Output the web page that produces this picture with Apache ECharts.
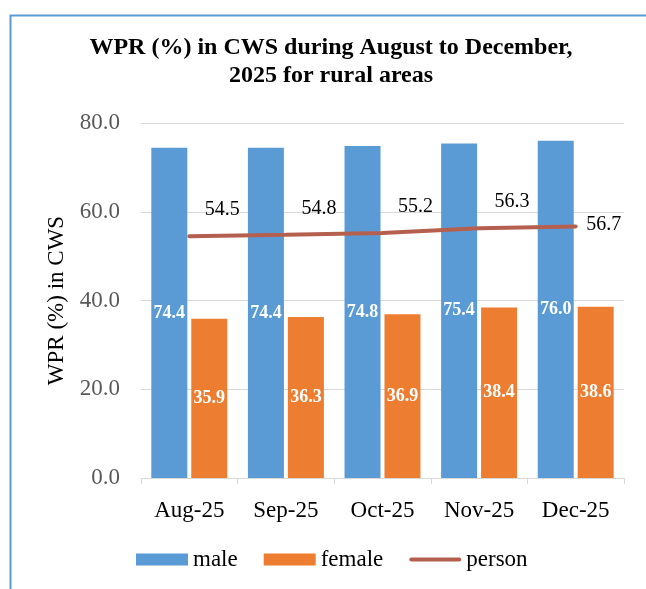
<!DOCTYPE html>
<html>
<head>
<meta charset="utf-8">
<script src="https://cdn.jsdelivr.net/npm/echarts@6/dist/echarts.min.js"></script>
<style>html,body{margin:0;padding:0;background:#fff}#c{width:646px;height:589px}</style>
</head>
<body>
<div id="c"></div>
<script>
var categories = ['Aug-25', 'Sep-25', 'Oct-25', 'Nov-25', 'Dec-25'];
var male = [74.4, 74.4, 74.8, 75.4, 76.0];
var female = [35.9, 36.3, 36.9, 38.4, 38.6];
var person = [54.5, 54.8, 55.2, 56.3, 56.7];
var yTicks = { min: 0, max: 80, interval: 20 };
var titleText = 'WPR (%) in CWS during August to December,\n2025 for rural areas';

var serif = 'Liberation Serif';
var chart = echarts.init(document.getElementById('c'));
var personData = person.map(function (v, i) {
  if (i === person.length - 1) {
    return { value: v, label: { position: 'right', distance: 10, offset: [0, -2] } };
  }
  return v;
});
var lineIcon = 'path://M0,0h0.01v0.01h-0.01z M2,4h48a2,2 0 0 1 0,4h-48a2,2 0 0 1 0,-4z M51.99,11.99h0.01v0.01h-0.01z';
chart.setOption({
  animation: false,
  backgroundColor: '#fff',
  graphic: [{
    type: 'rect', left: 8, top: 13, z: -1,
    shape: { x: 0, y: 0, width: 700, height: 700 },
    style: { fill: 'none', stroke: '#5b9bd5', lineWidth: 2 }
  }, {
    type: 'text', x: 331, y: 34, z: 10,
    style: { text: titleText, textAlign: 'center', textVerticalAlign: 'top',
      font: 'bold 24px "Liberation Serif"', lineHeight: 28, fill: '#000' }
  }],
  legend: {
    left: 131, top: 543,
    itemWidth: 52, itemHeight: 12, itemGap: 26,
    textStyle: { fontFamily: serif, fontSize: 23, color: '#000' },
    data: [
      { name: 'male', icon: 'rect' },
      { name: 'female', icon: 'rect' },
      { name: 'person', icon: lineIcon, itemStyle: { color: '#b5604f', opacity: 1 } }
    ]
  },
  grid: { left: 141, right: 22, top: 123, bottom: 111 },
  xAxis: {
    type: 'category', data: categories,
    axisLine: { lineStyle: { color: '#d9d9d9', width: 1 } },
    axisTick: { show: true, length: 6, lineStyle: { color: '#d9d9d9' } },
    axisLabel: { fontFamily: serif, fontSize: 23, color: '#000', margin: 21 }
  },
  yAxis: {
    type: 'value', min: yTicks.min, max: yTicks.max, interval: yTicks.interval,
    name: 'WPR (%) in CWS', nameLocation: 'middle', nameGap: 72,
    nameTextStyle: { fontFamily: serif, fontSize: 23, color: '#000' },
    axisLine: { show: false }, axisTick: { show: false },
    splitLine: { lineStyle: { color: '#d9d9d9', width: 1 } },
    axisLabel: { fontFamily: serif, fontSize: 23, color: '#595959', margin: 21,
      formatter: function (v) { return v.toFixed(1); } }
  },
  series: [
    {
      name: 'male', type: 'bar', data: male, barWidth: 36, barGap: '11%',
      itemStyle: { color: '#5b9bd5' },
      label: { show: true, position: 'inside', fontFamily: serif, fontWeight: 'bold', fontSize: 18, color: '#fff',
        formatter: function (p) { return p.value.toFixed(1); } }
    },
    {
      name: 'female', type: 'bar', data: female, barWidth: 36,
      itemStyle: { color: '#ed7d31' },
      label: { show: true, position: 'inside', fontFamily: serif, fontWeight: 'bold', fontSize: 18, color: '#fff',
        formatter: function (p) { return p.value.toFixed(1); } }
    },
    {
      name: 'person', type: 'line', data: personData, symbol: 'circle', symbolSize: 1, showSymbol: true, z: 5,
      lineStyle: { color: '#b5604f', width: 4, cap: 'round' },
      itemStyle: { color: 'rgba(181,96,79,0)' },
      label: { show: true, position: 'top', offset: [33, -11], fontFamily: serif, fontSize: 20, color: '#000',
        formatter: function (p) { return p.value.toFixed(1); } }
    }
  ]
});
</script>
</body>
</html>
